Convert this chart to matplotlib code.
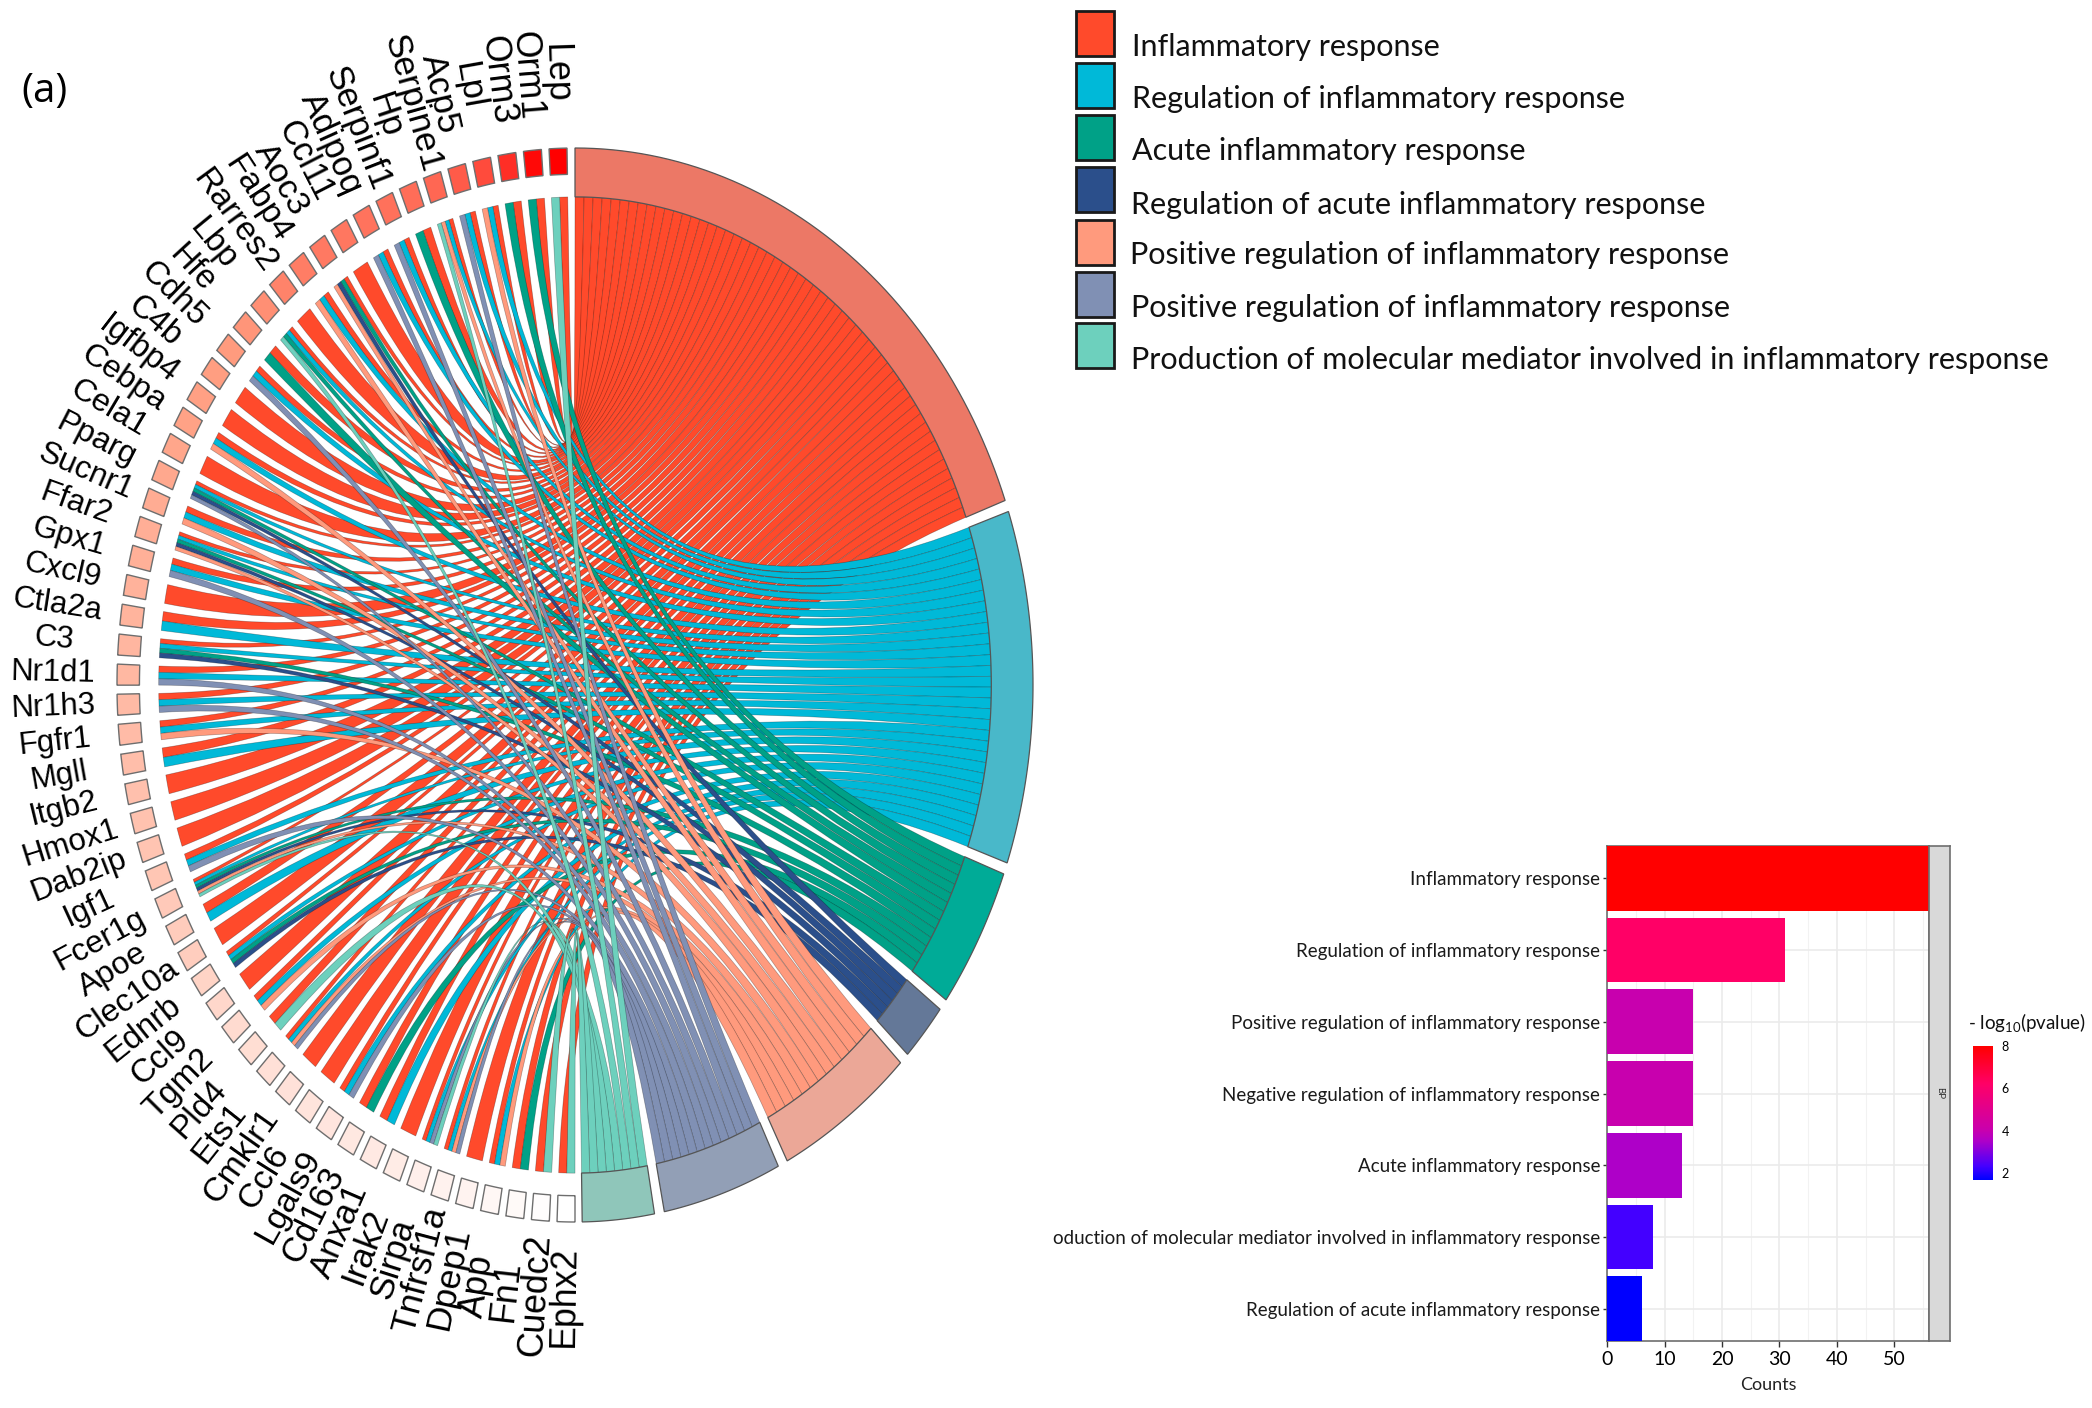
import numpy as np
import matplotlib
matplotlib.use("Agg")
import matplotlib.pyplot as plt
from matplotlib.cm import ScalarMappable
from matplotlib.colors import LinearSegmentedColormap, Normalize
from matplotlib.patches import PathPatch, Rectangle
from matplotlib.path import Path

W, H = 2092, 1408

# chord data: genes from the top, counter-clockwise
genes = ["Lep", "Orm1", "Orm3", "Lpl", "Acp5", "Serpine1", "Hp", "Serpinf1",
         "Adipoq", "Ccl11", "Aoc3", "Fabp4", "Rarres2", "Lbp", "Hfe", "Cdh5",
         "C4b", "Igfbp4", "Cebpa", "Cela1", "Pparg", "Sucnr1", "Ffar2", "Gpx1",
         "Cxcl9", "Ctla2a", "C3", "Nr1d1", "Nr1h3", "Fgfr1", "Mgll", "Itgb2",
         "Hmox1", "Dab2ip", "Igf1", "Fcer1g", "Apoe", "Clec10a", "Ednrb", "Ccl9",
         "Tgm2", "Pld4", "Ets1", "Cmklr1", "Ccl6", "Lgals9", "Cd163", "Anxa1",
         "Irak2", "Sirpa", "Tnfrsf1a", "Dpep1", "App", "Fn1", "Cuedc2", "Ephx2"]

# I inflammatory, R regulation, A acute, D reg. acute, P positive, N negative, M mediator
gene_terms = ["IM", "IA", "IA", "IRP", "IRN", "IRPM", "IA", "IRN",
              "IRN", "I", "IADP", "IRP", "I", "IRAM", "IA", "IRN",
              "I", "I", "IRP", "I", "IRADN", "IRP", "IRADP", "IRN",
              "I", "IR", "IRAD", "IRN", "IRN", "IRP", "IR", "I",
              "I", "I", "IRN", "IRADPM", "IR", "I", "IRAD", "I",
              "IRP", "IM", "IRPN", "I", "I", "IRN", "IA", "IR",
              "I", "IRNM", "IRPN", "I", "IRP", "IA", "IM", "IM"]

gene_lfc = [1.00, 0.97, 0.85, 0.76, 0.71, 0.67, 0.65, 0.64,
            0.63, 0.62, 0.61, 0.60, 0.58, 0.54, 0.52, 0.50,
            0.49, 0.48, 0.47, 0.45, 0.44, 0.42, 0.41, 0.40,
            0.39, 0.38, 0.37, 0.36, 0.35, 0.34, 0.33, 0.32,
            0.31, 0.30, 0.29, 0.27, 0.26, 0.25, 0.22, 0.20,
            0.18, 0.17, 0.16, 0.15, 0.14, 0.13, 0.12, 0.11,
            0.10, 0.08, 0.07, 0.06, 0.04, 0.03, 0.01, 0.00]

term_keys = ["I", "R", "A", "D", "P", "N", "M"]
term_names = ["Inflammatory response",
              "Regulation of inflammatory response",
              "Acute inflammatory response",
              "Regulation of acute inflammatory response",
              "Positive regulation of inflammatory response",
              "Positive regulation of inflammatory response",
              "Production of molecular mediator involved in inflammatory response"]
term_colors = ["#FF4A2B", "#00B9D8", "#00A187", "#2B4F8B", "#FF9A7D", "#8090B4", "#6DD0BD"]
ring_colors = ["#EC7866", "#49B8C9", "#00AB97", "#647898", "#EBA797", "#929FB6", "#8FC6BA"]
term_spans = [69.9, 38.2, 15.3, 6.3, 17.7, 15.1, 9.1]

# bar chart data, top to bottom
bar_labels = ["Inflammatory response",
              "Regulation of inflammatory response",
              "Positive regulation of inflammatory response",
              "Negative regulation of inflammatory response",
              "Acute inflammatory response",
              "oduction of molecular mediator involved in inflammatory response",
              "Regulation of acute inflammatory response"]
bar_counts = [56, 31, 15, 15, 13, 8, 6]
bar_logp = [8.0, 6.2, 4.0, 4.0, 3.5, 2.3, 1.66]

NARROW = ["Lato"]
SANS = ["Liberation Sans"]
plt.rcParams["mathtext.default"] = "regular"


def polar(theta, r):
    t = np.radians(theta)
    return np.array([r * np.sin(t), r * np.cos(t)])


def arc(t1, t2, r, n=60):
    return [polar(t, r) for t in np.linspace(t1, t2, n)]


def sector(ax, t1, t2, r1, r2, **kw):
    pts = arc(t1, t2, r2) + arc(t2, t1, r1)
    ax.add_patch(plt.Polygon(pts, closed=True, **kw))


def ribbon(ax, t1, t2, g1, g2, r, **kw):
    # t1,t2 on the term side, g1,g2 on the gene side; control point is the centre
    centre = (0.0, 0.0)
    term_side = arc(t1, t2, r, 5)
    gene_side = arc(g2, g1, r, 5)
    verts = term_side + [centre, gene_side[0]] + gene_side[1:] + [centre, term_side[0]]
    codes = ([Path.MOVETO] + [Path.LINETO] * 4 + [Path.CURVE3, Path.CURVE3]
             + [Path.LINETO] * 4 + [Path.CURVE3, Path.CURVE3])
    ax.add_patch(PathPatch(Path(verts, codes), **kw))


fig = plt.figure(figsize=(W / 100, H / 100), dpi=100, facecolor="white")

# chord diagram; the unit circle is drawn as an ellipse, as in the picture
cx, cy, rx, ry = 575, 685, 458, 537
pad = 1.1
ax = fig.add_axes([(cx - rx * pad) / W, 1 - (cy + ry * pad) / H,
                   2 * rx * pad / W, 2 * ry * pad / H])
ax.set_xlim(-pad, pad)
ax.set_ylim(-pad, pad)
ax.axis("off")

r_chord = 0.909
r_square = 0.951
gene_w = 2.25
gene_pitch = (179.0 - gene_w) / (len(genes) - 1)
gene_start = [1.0 + i * gene_pitch for i in range(len(genes))]

# term sectors run clockwise from the top
gap = 1.25
term_start = np.concatenate([[0.0], np.cumsum(np.array(term_spans) + gap)[:-1]])
term_n = [sum(k in g for g in gene_terms) for k in term_keys]

lfc_cmap = LinearSegmentedColormap.from_list("lfc", ["#FFFFFF", "#FF9C7E", "#FF0000"])

for k, key in enumerate(term_keys):
    width = term_spans[k] / term_n[k]
    pos = 0
    for i, terms in enumerate(gene_terms):
        if key not in terms:
            continue
        j = terms.index(key)
        part = gene_w / len(terms)
        g1 = gene_start[i] + j * part
        t1 = term_start[k] + pos * width
        ribbon(ax, t1, t1 + width, -g1, -(g1 + part), r_chord,
               facecolor=term_colors[k], edgecolor=(0, 0, 0, 0.3), linewidth=0.5,
               zorder=2 + k)
        pos += 1
    sector(ax, term_start[k], term_start[k] + term_spans[k], r_chord, 1.0,
           facecolor=ring_colors[k], edgecolor="#555555", linewidth=0.9, zorder=12)

for i, name in enumerate(genes):
    g = gene_start[i]
    sector(ax, -g, -(g + gene_w), r_square, 1.0,
           facecolor=lfc_cmap(gene_lfc[i]), edgecolor="#6E6E6E", linewidth=1.0, zorder=12)
    mid = g + gene_w / 2
    s, c = np.sin(np.radians(mid)), np.cos(np.radians(mid))
    x, y = polar(-mid, 1.14)
    rotation = np.degrees(np.arctan2(-c * ry, s * rx))
    # the picture is stretched, so labels are longer when they run up and down
    em = np.hypot(32 * s, 36.7 * c)
    ax.text(x, y, name, rotation=rotation, rotation_mode="anchor", ha="center",
            va="center", fontsize=em * 0.7, family=SANS, color="black", zorder=13)

fig.text(21 / W, 1 - 92 / H, "(a)", fontsize=29, family=["Open Sans"], va="center", ha="left")

# legend
swatch_top = [11, 63, 115, 167, 220, 272, 323]
label_x = [1132, 1132, 1132, 1131, 1130, 1131, 1131]
label_y = [47, 99, 151, 205, 255, 308, 360]
for k, name in enumerate(term_names):
    fig.add_artist(Rectangle((1076 / W, 1 - (swatch_top[k] + 45) / H), 38 / W, 45 / H,
                             transform=fig.transFigure, facecolor=term_colors[k],
                             edgecolor="#1A1A1A", linewidth=2))
    fig.text(label_x[k] / W, 1 - label_y[k] / H, name, fontsize=22, family=NARROW,
             va="center", ha="left", color="#111111")

# bar chart
ax_bar = fig.add_axes([1607 / W, 1 - 1341 / H, 322 / W, 495 / H])
y_pos = np.arange(len(bar_labels))
bar_cmap = LinearSegmentedColormap.from_list(
    "p", [(0.0, "#0000FF"), (0.1, "#4400FF"), (0.29, "#AE00C8"), (0.37, "#C800AE"),
          (0.72, "#FF0066"), (1.0, "#FF0000")])
norm = Normalize(1.66, 8)
ax_bar.barh(y_pos, bar_counts, height=0.9, color=bar_cmap(norm(bar_logp)), zorder=3)
ax_bar.set_xlim(0, 56)
ax_bar.set_ylim(6.45, -0.45)
ax_bar.set_yticks(y_pos, bar_labels, family=NARROW, fontsize=13.5, color="#1A1A1A")
ax_bar.set_xticks(range(0, 51, 10))
ax_bar.set_xticks(range(5, 56, 10), minor=True)
ax_bar.tick_params(axis="x", labelsize=14, length=4, width=1, color="#333333", pad=3)
ax_bar.tick_params(axis="x", which="minor", length=0)
ax_bar.tick_params(axis="y", length=3, width=1, color="#333333", pad=2)
for lab in ax_bar.get_xticklabels():
    lab.set_family(NARROW)
ax_bar.grid(which="major", color="#EBEBEB", linewidth=1.2, zorder=0)
ax_bar.grid(which="minor", axis="x", color="#F2F2F2", linewidth=0.8, zorder=0)
ax_bar.set_axisbelow(True)
for spine in ax_bar.spines.values():
    spine.set_color("#6E6E6E")
    spine.set_linewidth(1.2)
ax_bar.set_xlabel("Counts", family=NARROW, fontsize=13, labelpad=7, color="#222222")

ax_strip = fig.add_axes([1929 / W, 1 - 1341 / H, 21 / W, 495 / H], facecolor="#D9D9D9")
ax_strip.set_xticks([])
ax_strip.set_yticks([])
for spine in ax_strip.spines.values():
    spine.set_color("#6E6E6E")
    spine.set_linewidth(1.2)
ax_strip.text(0.5, 0.5, "BP", rotation=-90, ha="center", va="center", fontsize=7,
              family=NARROW, transform=ax_strip.transAxes, color="#333333")

cax = fig.add_axes([1973 / W, 1 - 1180 / H, 20 / W, 134 / H])
cbar = fig.colorbar(ScalarMappable(norm, bar_cmap), cax=cax, ticks=[2, 4, 6, 8])
cbar.outline.set_visible(False)
cbar.ax.tick_params(length=0, labelsize=9, pad=6)
for lab in cbar.ax.get_yticklabels():
    lab.set_family(NARROW)
fig.text(2027 / W, 1 - 1022 / H, r"- log$_{10}$(pvalue)", family=NARROW, fontsize=13.5,
         ha="center", va="center", color="#111111")

fig.savefig("out.png", dpi=100)
